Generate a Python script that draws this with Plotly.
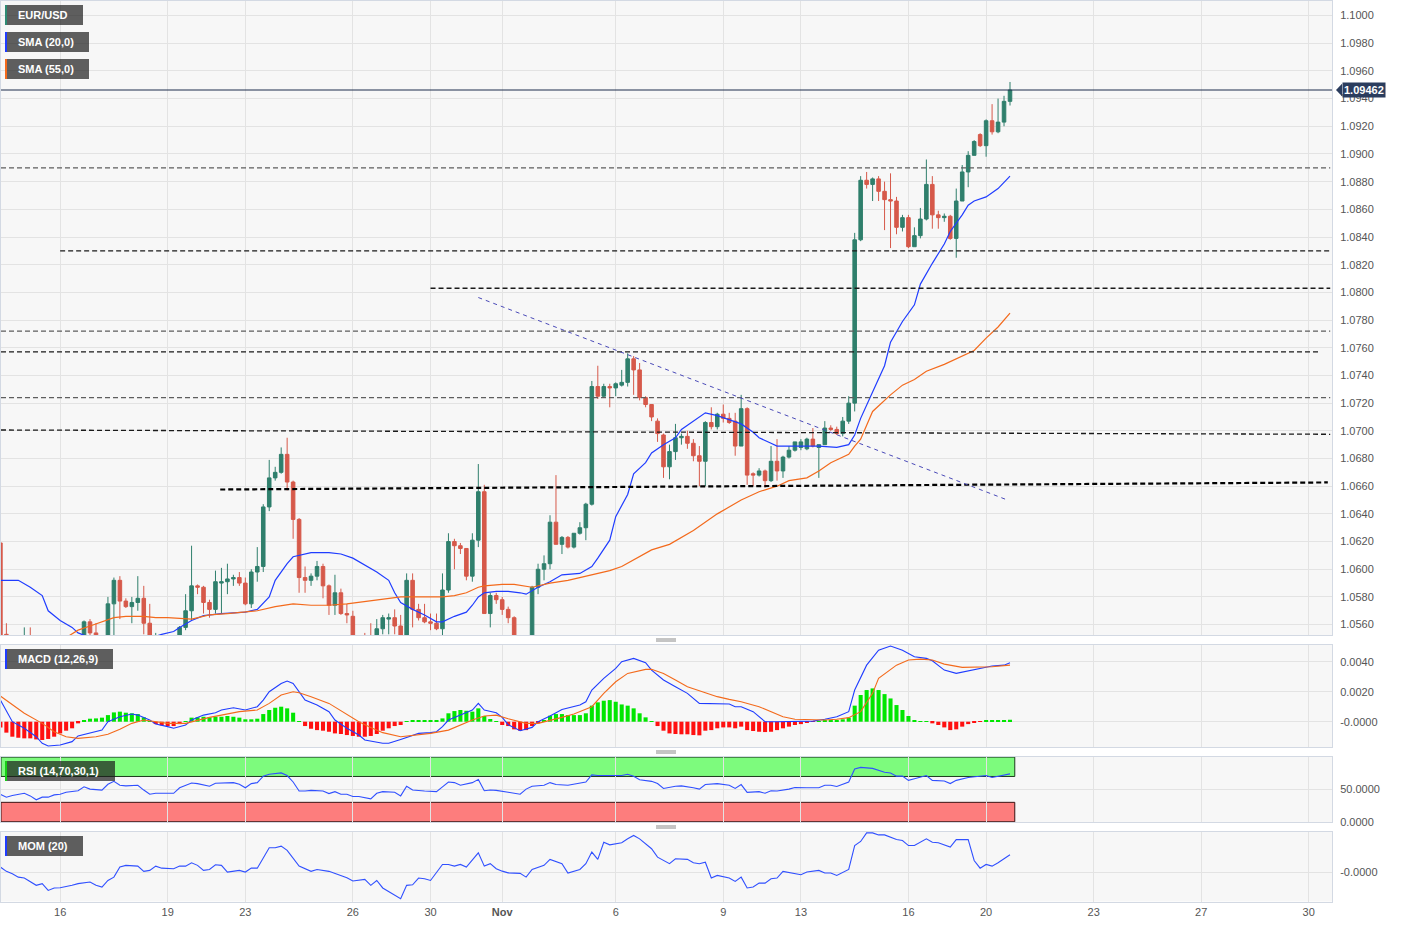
import plotly.graph_objects as go
from plotly.subplots import make_subplots

# ---------------- DATA (4h candles, index 0 = Mon 16 Oct 00:00) ----------------
first_index = -10
opens = [1.0619,1.0553,1.0530,1.0520,1.0532,1.0541,1.0515,1.0505,1.0512,1.0508,
         1.0510,1.0520,1.0530,1.0540,1.0536,1.0562,1.0554,1.0545,1.0540,1.0575,
         1.0592,1.0577,1.0573,1.0576,1.0579,1.0561,1.0545,1.0550,1.0535,1.0540,
         1.0545,1.0558,1.0570,1.0588,1.0587,1.0576,1.0571,1.0590,1.0591,1.0593,
         1.0594,1.0590,1.0575,1.0598,1.0602,1.0645,1.0666,1.0670,1.0683,1.0663,
         1.0636,1.0594,1.0592,1.0595,1.0602,1.0588,1.0574,1.0583,1.0568,1.0566,
         1.0540,1.0532,1.0538,1.0530,1.0557,1.0564,1.0565,1.0559,1.0542,1.0592,
         1.0571,1.0565,1.0562,1.0561,1.0557,1.0585,1.0620,1.0617,1.0615,1.0595,
         1.0621,1.0656,1.0568,1.0581,1.0578,1.0571,1.0565,1.0545,1.0535,1.0540,
         1.0587,1.0600,1.0604,1.0634,1.0618,1.0623,1.0616,1.0626,1.0630,1.0647,
         1.0732,1.0725,1.0732,1.0731,1.0733,1.0735,1.0752,1.0744,1.0724,1.0719,
         1.0707,1.0697,1.0674,1.0685,1.0695,1.0696,1.0691,1.0682,1.0678,1.0706,
         1.0703,1.0712,1.0709,1.0707,1.0689,1.0716,1.0669,1.0668,1.0671,1.0664,
         1.0678,1.0671,1.0681,1.0686,1.0688,1.0687,1.0694,1.0688,1.0690,1.0702,
         1.0701,1.0698,1.0707,1.0720,1.0838,1.0881,1.0878,1.0882,1.0873,1.0867,
         1.0866,1.0847,1.0854,1.0833,1.0841,1.0853,1.0878,1.0856,1.0854,1.0855,
         1.0839,1.0866,1.0887,1.0899,1.0914,1.0906,1.0924,1.0916,1.0923,1.0938]
highs = [1.0626,1.0561,1.0545,1.0540,1.0558,1.0558,1.0530,1.0520,1.0525,1.0515,
         1.0525,1.0535,1.0545,1.0550,1.0563,1.0564,1.0561,1.0551,1.0580,1.0594,
         1.0595,1.0579,1.0580,1.0595,1.0588,1.0575,1.0554,1.0551,1.0548,1.0550,
         1.0559,1.0582,1.0617,1.0589,1.0588,1.0578,1.0599,1.0601,1.0604,1.0596,
         1.0598,1.0594,1.0600,1.0616,1.0647,1.0679,1.0674,1.0688,1.0695,1.0664,
         1.0637,1.0602,1.0597,1.0606,1.0604,1.0589,1.0596,1.0586,1.0575,1.0570,
         1.0548,1.0554,1.0561,1.0564,1.0567,1.0568,1.0571,1.0567,1.0597,1.0597,
         1.0575,1.0575,1.0568,1.0568,1.0597,1.0626,1.0622,1.0619,1.0615,1.0626,
         1.0676,1.0661,1.0583,1.0583,1.0580,1.0573,1.0566,1.0550,1.0548,1.0588,
         1.0604,1.0610,1.0639,1.0668,1.0624,1.0624,1.0626,1.0634,1.0648,1.0736,
         1.0747,1.0734,1.0734,1.0735,1.0744,1.0756,1.0754,1.0749,1.0725,1.0719,
         1.0709,1.0698,1.0690,1.0705,1.0698,1.0700,1.0694,1.0689,1.0707,1.0717,
         1.0713,1.0719,1.0713,1.0713,1.0726,1.0717,1.0670,1.0673,1.0672,1.0689,
         1.0694,1.0682,1.0689,1.0692,1.0694,1.0695,1.0702,1.0690,1.0707,1.0704,
         1.0703,1.0710,1.0725,1.0843,1.0884,1.0887,1.0883,1.0884,1.0880,1.0886,
         1.0869,1.0856,1.0856,1.0847,1.0861,1.0896,1.0884,1.0859,1.0857,1.0856,
         1.0875,1.0892,1.0902,1.0910,1.0915,1.0925,1.0936,1.0940,1.0942,1.0952]
lows = [1.0527,1.0525,1.0515,1.0505,1.0525,1.0510,1.0496,1.0495,1.0500,1.0500,
        1.0505,1.0512,1.0522,1.0528,1.0532,1.0548,1.0535,1.0530,1.0535,1.0550,
        1.0564,1.0572,1.0561,1.0570,1.0553,1.0535,1.0530,1.0525,1.0522,1.0530,
        1.0538,1.0556,1.0563,1.0582,1.0568,1.0565,1.0568,1.0568,1.0582,1.0588,
        1.0588,1.0574,1.0572,1.0591,1.0598,1.0642,1.0664,1.0669,1.0657,1.0622,
        1.0583,1.0583,1.0588,1.0592,1.0579,1.0567,1.0567,1.0567,1.0561,1.0535,
        1.0524,1.0522,1.0525,1.0527,1.0553,1.0553,1.0553,1.0535,1.0540,1.0558,
        1.0563,1.0561,1.0556,1.0556,1.0550,1.0583,1.0600,1.0611,1.0592,1.0591,
        1.0616,1.0568,1.0558,1.0575,1.0567,1.0561,1.0535,1.0525,1.0517,1.0535,
        1.0582,1.0592,1.0600,1.0618,1.0611,1.0615,1.0615,1.0625,1.0621,1.0646,
        1.0723,1.0724,1.0717,1.0725,1.0732,1.0732,1.0726,1.0722,1.0717,1.0707,
        1.0692,1.0666,1.0665,1.0679,1.0690,1.0687,1.0678,1.0660,1.0660,1.0701,
        1.0701,1.0706,1.0705,1.0682,1.0689,1.0661,1.0660,1.0667,1.0659,1.0663,
        1.0664,1.0666,1.0680,1.0685,1.0686,1.0686,1.0688,1.0666,1.0690,1.0700,
        1.0697,1.0696,1.0705,1.0714,1.0837,1.0875,1.0866,1.0866,1.0845,1.0832,
        1.0842,1.0844,1.0832,1.0833,1.0839,1.0852,1.0846,1.0846,1.0851,1.0838,
        1.0825,1.0866,1.0876,1.0899,1.0905,1.0898,1.0914,1.0915,1.0920,1.0935]
closes = [1.0538,1.0530,1.0520,1.0532,1.0541,1.0515,1.0505,1.0512,1.0508,1.0510,
          1.0520,1.0530,1.0540,1.0536,1.0562,1.0554,1.0545,1.0540,1.0575,1.0592,
          1.0577,1.0573,1.0576,1.0579,1.0561,1.0545,1.0550,1.0535,1.0540,1.0545,
          1.0558,1.0570,1.0588,1.0587,1.0576,1.0571,1.0591,1.0591,1.0593,1.0594,
          1.0590,1.0575,1.0598,1.0602,1.0645,1.0666,1.0670,1.0683,1.0663,1.0636,
          1.0594,1.0592,1.0595,1.0602,1.0588,1.0574,1.0583,1.0568,1.0567,1.0540,
          1.0532,1.0528,1.0530,1.0557,1.0565,1.0565,1.0559,1.0542,1.0592,1.0571,
          1.0565,1.0562,1.0561,1.0557,1.0585,1.0620,1.0617,1.0615,1.0595,1.0621,
          1.0656,1.0568,1.0581,1.0578,1.0571,1.0565,1.0545,1.0535,1.0540,1.0587,
          1.0600,1.0604,1.0634,1.0618,1.0623,1.0616,1.0626,1.0630,1.0647,1.0732,
          1.0725,1.0732,1.0731,1.0734,1.0735,1.0752,1.0744,1.0724,1.0719,1.0710,
          1.0698,1.0674,1.0685,1.0695,1.0696,1.0691,1.0682,1.0678,1.0706,1.0703,
          1.0712,1.0709,1.0706,1.0689,1.0716,1.0668,1.0668,1.0671,1.0664,1.0678,
          1.0671,1.0681,1.0686,1.0692,1.0692,1.0694,1.0689,1.0690,1.0702,1.0701,
          1.0698,1.0707,1.0720,1.0838,1.0881,1.0878,1.0882,1.0873,1.0867,1.0866,
          1.0847,1.0854,1.0833,1.0841,1.0853,1.0878,1.0856,1.0854,1.0855,1.0839,
          1.0866,1.0887,1.0899,1.0909,1.0906,1.0924,1.0916,1.0923,1.0938,1.09462]
candle_index = list(range(first_index, first_index + len(closes)))

# SMA readings (candle index, value)
sma20_index = [-10,-7,-5,-3,-2,0,2,3,6,9,12,15,17,19,20,22,24,27,31,33,35,36,38,39,42,45,47,49,51,53,
               55,56,57,59,61,63,64,66,68,69,70,71,73,75,77,78,80,82,84,87,89,90,92,93,95,96,98,99,101,103,
               104,106,108,110,112,114,116,117,119,120,122,125,127,130,132,133,134,136,138,139,141,143,144,146,148,149,151,152,153,155,
               157,159]
sma20_value = [1.0592,1.0592,1.0587,1.0581,1.0570,1.0563,1.0558,1.0554,1.0549,1.0546,1.0546,1.0550,1.0553,1.0555,1.0558,1.0563,1.05665,1.0568,1.0569,1.0571,
               1.0580,1.0592,1.0604,1.0609,1.0612,1.0612,1.0611,1.0608,1.0603,1.0598,1.0592,1.0583,1.0576,1.0571,1.0567,1.0562,1.0562,1.0566,1.0569,1.0574,
               1.0580,1.0583,1.0584,1.0584,1.0583,1.0582,1.0587,1.0591,1.0596,1.0597,1.0602,1.0608,1.0621,1.0638,1.0654,1.0669,1.0677,1.0684,1.0690,1.0695,
               1.0701,1.0707,1.0713,1.0711,1.0708,1.0705,1.0699,1.0695,1.0691,1.0689,1.0689,1.0689,1.0689,1.0688,1.0690,1.0697,1.0709,1.0728,1.0747,1.0764,
               1.0779,1.0791,1.0806,1.0821,1.0835,1.0844,1.0856,1.0863,1.0866,1.0869,1.0875,1.0884]
sma55_index = [-10,-5,0,2,3,5,7,9,11,14,16,18,22,25,28,33,36,39,42,45,48,50,54,57,61,64,66,68,70,71,
               74,76,79,82,85,89,92,94,97,99,102,104,106,110,114,117,120,122,125,127,129,132,133,134,136,139,141,143,145,148,
               150,153,155,157,159]
sma55_value = [1.0538,1.0542,1.0548,1.0553,1.0556,1.0559,1.0562,1.0565,1.0566,1.0566,1.0565,1.0565,1.0564,1.0567,1.0568,1.0570,1.0573,1.0575,1.0574,1.0574,
               1.0575,1.0576,1.0578,1.0580,1.0580,1.0580,1.0581,1.0583,1.0587,1.0588,1.0589,1.0589,1.0587,1.0590,1.0592,1.0596,1.0599,1.0602,1.0609,1.0614,
               1.0618,1.0623,1.0628,1.0640,1.0650,1.0656,1.0660,1.0664,1.0666,1.0671,1.0677,1.0683,1.0689,1.0694,1.0714,1.0726,1.0733,1.0737,1.0743,1.0748,
               1.0752,1.0758,1.0767,1.0775,1.0785]

# MACD (12,26,9)
macd_index = [-10,-9,-8,-6,-4,-3,-2,0,2,3,5,7,8,10,12,13,15,16,18,19,21,22,24,26,27,29,31,33,34,35,
              37,38,39,40,41,43,45,46,48,50,51,54,55,57,59,60,62,63,64,65,67,69,70,71,73,74,75,77,79,80,
              82,84,87,88,89,91,93,94,96,98,99,101,103,105,107,109,112,113,114,116,118,120,123,126,128,130,132,133,135,137,
              139,141,143,145,146,148,150,152,154,156,158,159]
macd_value = [0.00144,0.00067,0.0,-0.00044,-0.0010,-0.00144,-0.00162,-0.00155,-0.00133,-0.00095,-0.00073,-0.00056,0.0,0.00033,0.00051,0.00044,0.00011,-0.00016,-0.00033,-0.00044,
              -0.00022,0.00011,0.00044,0.0006,0.00078,0.00093,0.00078,0.0010,0.00144,0.0020,0.00255,0.00271,0.00255,0.0020,0.00144,0.00111,0.00067,0.00011,-0.00044,-0.00089,
              -0.00122,-0.00144,-0.00144,-0.00118,-0.00089,-0.00078,-0.00073,-0.00067,-0.00033,0.00011,0.00044,0.00078,0.00122,0.00078,0.0006,0.00029,-0.0002,-0.0006,-0.00038,0.0,
              0.00038,0.00082,0.00111,0.00133,0.00211,0.00289,0.00355,0.0040,0.00422,0.00393,0.00344,0.00278,0.00233,0.00189,0.00122,0.00122,0.00118,0.0010,0.0010,0.00067,
              0.0,0.0,0.0,0.00004,0.00016,0.00033,0.00067,0.00211,0.00377,0.00477,0.00504,0.00477,0.00433,0.00422,0.00406,0.00344,0.00322,0.0034,0.00355,0.00371,
              0.00377,0.00393]
signal_index = [-10,-8,-6,-3,-1,1,3,6,8,10,12,14,16,18,21,23,25,27,30,33,35,37,39,40,42,45,47,49,50,52,
                54,57,60,62,65,67,69,71,73,75,78,80,82,84,86,89,91,93,95,98,99,101,103,105,108,110,112,114,117,119,
                121,123,126,128,130,132,134,136,137,140,142,144,146,148,151,154,156,159]
signal_value = [0.00171,0.00111,0.00056,-0.00011,-0.00067,-0.0010,-0.00111,-0.0010,-0.00084,-0.00051,-0.00011,0.00011,0.0,-0.00011,-0.00011,0.00011,0.00029,0.00044,0.00067,0.00078,
                0.00122,0.00178,0.0020,0.00193,0.00167,0.00122,0.00073,0.00022,0.0,-0.00038,-0.00073,-0.0010,-0.00089,-0.00078,-0.00056,-0.00022,0.00011,0.00038,0.00044,0.0002,
                -0.00011,-0.00011,0.00007,0.00029,0.00051,0.0010,0.00189,0.00266,0.00322,0.00349,0.00349,0.00322,0.00278,0.00233,0.00193,0.00167,0.00149,0.00133,0.0010,0.00067,
                0.00033,0.00016,0.00011,0.00011,0.00016,0.00027,0.00067,0.00189,0.00289,0.00377,0.00411,0.00417,0.00411,0.00384,0.00362,0.00362,0.00366,0.00377]
hist_value = [-0.00038,-0.00073,-0.0010,-0.00107,-0.00111,-0.00111,-0.00118,-0.00122,-0.00115,-0.0010,
              -0.00078,-0.0006,-0.00044,-0.00011,0.00011,0.0002,0.00022,0.00027,0.00044,0.00062,
              0.00067,0.0006,0.00056,0.00051,0.00029,0.00004,-0.00016,-0.00024,-0.00029,-0.00029,
              -0.00016,0.00004,0.00027,0.00029,0.00033,0.00029,0.00033,0.00033,0.00038,0.00033,
              0.00027,0.00016,0.00016,0.0002,0.00051,0.00078,0.00093,0.0010,0.00089,0.0006,
              0.00004,-0.00029,-0.00047,-0.00056,-0.0006,-0.00067,-0.00078,-0.00082,-0.00089,-0.00095,
              -0.0010,-0.0010,-0.00095,-0.00082,-0.0006,-0.00044,-0.00029,-0.00022,0.00004,0.00011,
              0.00011,0.00011,0.00009,0.00007,0.00022,0.00056,0.00071,0.00078,0.00073,0.00067,
              0.00089,0.00038,0.00018,0.00004,-0.00022,-0.00029,-0.00051,-0.0006,-0.00056,-0.00029,
              -0.00011,0.00011,0.0004,0.00051,0.00051,0.00044,0.00044,0.00044,0.00056,0.00107,
              0.00129,0.0014,0.00144,0.00133,0.00115,0.00107,0.00089,0.00056,0.00029,0.00004,
              -0.00029,-0.0006,-0.00078,-0.00082,-0.00084,-0.00084,-0.00089,-0.00091,-0.0006,-0.00056,
              -0.00044,-0.00038,-0.00038,-0.00044,-0.00033,-0.00056,-0.00062,-0.00067,-0.00069,-0.00067,
              -0.00056,-0.00044,-0.00033,-0.00022,-0.00016,-0.00007,-0.00002,0.00004,0.00011,0.00011,
              0.00011,0.00016,0.00027,0.00107,0.00178,0.00211,0.00222,0.00211,0.00184,0.00155,
              0.00111,0.00078,0.00038,0.00011,0.00004,0.00002,-0.00011,-0.00022,-0.00038,-0.00056,
              -0.00051,-0.00033,-0.00016,-0.00007,-0.00002,0.00007,0.00007,0.00007,0.00011,0.00013]

# RSI (14)
rsi_index = [-10,-9,-8,-6,-5,-4,-3,-2,-1,0,1,3,4,5,7,8,9,10,11,13,14,15,16,18,19,20,22,23,24,25,
             26,27,29,30,31,32,33,34,35,37,38,39,40,41,42,44,45,46,47,48,49,50,52,53,54,56,57,58,59,61,
             62,63,64,65,66,67,69,70,71,72,73,74,75,77,78,79,81,82,83,85,86,88,89,90,92,94,95,96,97,99,
             100,101,103,104,106,107,108,110,112,113,114,115,117,118,119,120,122,123,125,127,128,129,130,132,133,134,136,137,138,139,
             140,141,142,143,145,146,148,149,150,152,153,155,156,158,159]
rsi_value = [42.5,38,40.5,44,40,34,38,38,41.5,42.5,45.5,48,54,50.5,49,58,62.5,56.5,55.5,56.5,49,42.5,44,43.5,44,52.5,60,59,56.5,55,
             59.5,60,60.5,58,52.5,59,60.5,70.5,73.5,75.5,71.5,61.5,47.5,47.5,48.5,47.5,43.5,46.5,42.5,42.5,39,39,35.5,44,46.5,45.5,40,55,49,47.5,
             47.5,46.5,54,61.5,60.5,56.5,60.5,65.5,48,49,48.5,47.5,45.5,42.5,50.5,55,56.5,60.5,57.5,56.5,58,61.5,72.5,71.5,71.5,71.5,73.5,70.5,65,62.5,
             59,51.5,55,55.5,52.5,50.5,57.5,59,56.5,51.5,57.5,45.5,46.5,44,48,47.5,50.5,53,52.5,52.5,56.5,56.5,54.5,61.5,81.5,84,82.5,79,76.5,75.5,
             70.5,70.5,64,66.5,71.5,64,63,59,64,68.5,69.5,71.5,68.5,71.5,74]

# Momentum (20)
mom_index = [-10,-9,-8,-7,-6,-4,-3,-2,-1,0,2,3,5,6,7,8,9,10,11,13,14,15,16,17,19,20,21,22,23,24,
             25,26,27,28,30,31,32,33,34,35,36,37,38,40,42,43,45,47,48,49,51,52,53,54,55,56,57,58,59,60,
             61,62,63,64,65,66,67,68,70,71,72,73,74,75,77,78,79,81,82,84,85,87,88,89,90,91,92,94,95,96,
             97,99,100,102,103,105,106,107,108,109,110,112,113,114,115,116,117,118,119,120,121,124,125,127,128,129,130,132,133,134,
             135,136,137,138,140,141,142,143,145,146,147,149,150,152,153,154,155,156,157,158,159]
mom_value = [0.0027,0.0004,-0.0009,-0.0027,-0.0032,-0.0071,-0.0062,-0.0098,-0.0085,-0.0084,-0.0071,-0.0062,-0.0053,-0.0071,-0.0080,-0.0045,-0.0027,0.0027,0.0036,0.0032,
             0.0004,0.0009,0.0032,0.0021,0.0018,0.0032,0.0032,0.0050,0.0036,0.0009,0.0014,0.0039,0.0036,0.0,0.0009,0.0,0.0021,0.0021,0.0075,0.0130,
             0.0130,0.0139,0.0116,0.0032,0.0004,0.0014,0.0004,-0.0018,-0.0030,-0.0048,-0.0039,-0.0071,-0.0045,-0.0085,-0.0103,-0.0121,-0.0142,-0.0071,-0.0068,-0.0032,
             -0.0036,-0.0045,-0.0004,0.0041,0.0041,0.0032,0.0041,0.0027,0.0103,0.0032,0.0045,0.0018,0.0005,-0.0004,-0.0007,-0.0027,0.0014,0.0036,0.0068,0.0045,
             -0.0005,0.0014,0.0045,0.0107,0.0068,0.0160,0.0146,0.0157,0.0178,0.0196,0.0178,0.0125,0.0080,0.0045,0.0071,0.0068,0.0050,0.0045,0.0053,-0.0032,
             -0.0018,-0.0032,-0.0050,-0.0027,-0.0085,-0.0080,-0.0059,-0.0059,-0.0036,-0.0032,0.0004,-0.0014,0.0,0.0009,-0.0005,-0.0005,-0.0018,0.0014,0.0142,0.0164,
             0.0210,0.0210,0.0199,0.0199,0.0174,0.0169,0.0142,0.0142,0.0178,0.0160,0.0157,0.0134,0.0174,0.0174,0.0062,0.0021,0.0041,0.0032,0.0050,0.0071,0.0093]

# Drawn levels (price, start index, end index)
level_price = [1.0890, 1.0830, 1.0803, 1.0772, 1.0757, 1.0724]
level_start = [-9.9, 0, 62, -9.9, -9.9, -9.9]
level_end = [212.6, 212.6, 212.6, 212.6, 210.9, 212.6]
level_dark = [False, True, True, False, True, False]
sloped_level = [(-9.9, 1.07006, 212.6, 1.06975)]
support_line = (26.8, 1.06576, 212.2, 1.06627)
trend_line = (70.0, 1.07963, 158.4, 1.06503)
last_price = 1.09462

tick_index = [0, 18, 31, 49, 62, 74, 93, 111, 124, 142, 155, 173, 191, 209]
tick_text = ['16', '19', '23', '26', '30', '<b>Nov</b>', '6', '9', '13', '16', '20', '23', '27', '30']

# ---------------- FIGURE ----------------
W, H = 1403, 927
ML, MR, MT, MB = 1, 71, 1, 25
PW, PH = W - ML - MR, H - MT - MB

def fy(py):
    return (H - MB - py) / PH

def fx(px):
    return (px - ML) / PW

fig = make_subplots(rows=4, cols=1, shared_xaxes=True)

GREEN, RED = '#2f7f6c', '#d6594a'
BLUE, ORANGE = '#1f3cff', '#f36a1c'

fig.add_trace(go.Candlestick(x=candle_index, open=opens, high=highs, low=lows, close=closes,
                             increasing=dict(line=dict(color=GREEN, width=1), fillcolor=GREEN),
                             decreasing=dict(line=dict(color=RED, width=1), fillcolor=RED),
                             whiskerwidth=0, showlegend=False), row=1, col=1)
fig.add_trace(go.Scatter(x=sma20_index, y=sma20_value, mode='lines',
                         line=dict(color=BLUE, width=1.2), showlegend=False), row=1, col=1)
fig.add_trace(go.Scatter(x=sma55_index, y=sma55_value, mode='lines',
                         line=dict(color=ORANGE, width=1.2), showlegend=False), row=1, col=1)

hist_colors = ['#00e600' if v >= 0 else '#ff1010' for v in hist_value]
fig.add_trace(go.Bar(x=candle_index, y=hist_value, marker=dict(color=hist_colors, line=dict(width=0)),
                     width=0.68, showlegend=False), row=2, col=1)
fig.add_trace(go.Scatter(x=macd_index, y=macd_value, mode='lines',
                         line=dict(color=BLUE, width=1.1), showlegend=False), row=2, col=1)
fig.add_trace(go.Scatter(x=signal_index, y=signal_value, mode='lines',
                         line=dict(color=ORANGE, width=1.1), showlegend=False), row=2, col=1)

fig.add_trace(go.Scatter(x=rsi_index, y=rsi_value, mode='lines',
                         line=dict(color='#3050ff', width=1.1), showlegend=False), row=3, col=1)
fig.add_trace(go.Scatter(x=mom_index, y=mom_value, mode='lines',
                         line=dict(color='#3050ff', width=1.1), showlegend=False), row=4, col=1)

xr = [-9.9, 212.9]
grid = '#e3e3e3'
border = '#d3d9e3'
tickfont = dict(family='Arial, Liberation Sans', size=11, color='#555555')

domains = [(fy(635), fy(1)), (fy(747), fy(645)), (fy(822), fy(756.5)), (fy(901.5), fy(831.5))]
for i in range(4):
    ax = 'xaxis' if i == 0 else f'xaxis{i+1}'
    ay = 'yaxis' if i == 0 else f'yaxis{i+1}'
    fig.layout[ax].update(range=xr, domain=[0, 1], showgrid=True, gridcolor=grid, gridwidth=1,
                          tickmode='array', tickvals=tick_index, ticktext=tick_text,
                          showticklabels=(i == 3), tickfont=tickfont, ticks='',
                          showline=True, linecolor=border, mirror=True, zeroline=False,
                          rangeslider=dict(visible=False))
    fig.layout[ay].update(domain=list(domains[i]), side='right', showgrid=True, gridcolor=grid,
                          tickfont=tickfont, showline=True, linecolor=border, mirror=True,
                          zeroline=False, ticks='', ticklabelstandoff=5)

fig.layout.yaxis.update(range=[1.05525, 1.10105], tickmode='linear', tick0=1.0, dtick=0.002, tickformat='.4f')
fig.layout.yaxis2.update(range=[-0.001687, 0.005113], tickmode='array', tickvals=[0, 0.002, 0.004],
                         ticktext=['-0.0000', '0.0020', '0.0040'])
fig.layout.yaxis3.update(range=[-0.4, 100.9], tickmode='array', tickvals=[0, 50], ticktext=['0.0000', '50.0000'])
fig.layout.yaxis4.update(range=[-0.01575, 0.02173], tickmode='array', tickvals=[0], ticktext=['-0.0000'])

shapes = []
for p, s, e, dark in zip(level_price, level_start, level_end, level_dark):
    shapes.append(dict(type='line', xref='x', yref='y', x0=s, x1=e, y0=p, y1=p,
                       line=dict(color='#1a1a1a' if dark else '#5e5e5e', width=1.3, dash='5px,3px')))
for s, p0, e, p1 in sloped_level:
    shapes.append(dict(type='line', xref='x', yref='y', x0=s, x1=e, y0=p0, y1=p1,
                       line=dict(color='#1a1a1a', width=1.3, dash='5px,3px')))
shapes.append(dict(type='line', xref='x', yref='y', x0=support_line[0], y0=support_line[1],
                   x1=support_line[2], y1=support_line[3], line=dict(color='#000000', width=2.2, dash='5px,3px')))
shapes.append(dict(type='line', xref='x', yref='y', x0=trend_line[0], y0=trend_line[1],
                   x1=trend_line[2], y1=trend_line[3], line=dict(color='#4a4ab8', width=1, dash='4px,4px')))
shapes.append(dict(type='line', xref='paper', yref='y', x0=0, x1=1, y0=last_price, y1=last_price,
                   line=dict(color='#1c2c4c', width=1)))
# RSI zones
last_x = candle_index[-1] + 0.8
shapes.append(dict(type='rect', xref='x3', yref='y3', x0=xr[0], x1=last_x, y0=70, y1=100,
                   fillcolor='#7dfb7d', line=dict(color='#1e3a1e', width=1), layer='below'))
shapes.append(dict(type='rect', xref='x3', yref='y3', x0=xr[0], x1=last_x, y0=0.0, y1=30,
                   fillcolor='#fd7d7d', line=dict(color='#3a1414', width=1), layer='below'))
# price tag pointer
shapes.append(dict(type='path', xref='paper', yref='y',
                   path=f'M {fx(1336)} {last_price} L {fx(1342)} {last_price + 0.00045} L {fx(1342)} {last_price - 0.00045} Z',
                   fillcolor='#2b3d5e', line=dict(width=0)))
# pane separators
for py in (639, 751, 826):
    for dy in (0, 2):
        shapes.append(dict(type='line', xref='paper', yref='paper', x0=fx(656), x1=fx(676),
                           y0=fy(py + dy), y1=fy(py + dy), line=dict(color='#8a8a8a', width=1)))

annotations = []
labels = [('EUR/USD', 5, 83, 5, 25, '#2e8b74'), ('SMA (20,0)', 5, 89, 32, 52, BLUE),
          ('SMA (55,0)', 5, 89, 59, 79, ORANGE), ('MACD (12,26,9)', 5, 113, 649, 669, BLUE),
          ('RSI (14,70,30,1)', 5, 115, 761, 781, '#16d016'), ('MOM (20)', 5, 83, 836, 856, BLUE)]
for text, x0, x1, y0, y1, c in labels:
    shapes.append(dict(type='rect', xref='paper', yref='paper', x0=fx(x0), x1=fx(x1), y0=fy(y1), y1=fy(y0),
                       fillcolor='rgba(28,28,28,0.7)', line=dict(width=0)))
    shapes.append(dict(type='rect', xref='paper', yref='paper', x0=fx(x0), x1=fx(x0 + 2), y0=fy(y1), y1=fy(y0),
                       fillcolor=c, line=dict(width=0)))
    annotations.append(dict(text=f'<b>{text}</b>', xref='paper', yref='paper', x=fx(x0 + 11), y=fy((y0 + y1) / 2),
                            xanchor='left', yanchor='middle', showarrow=False,
                            font=dict(family='Arial, Liberation Sans', size=11, color='white')))
annotations.append(dict(text=f'<b>{last_price:.5f}</b>', xref='paper', yref='y', x=fx(1342), y=last_price,
                        xanchor='left', yanchor='middle', showarrow=False, bgcolor='#2b3d5e',
                        borderpad=1, font=dict(family='Arial, Liberation Sans', size=11, color='white')))

fig.update_layout(width=W, height=H, margin=dict(l=ML, r=MR, t=MT, b=MB),
                  paper_bgcolor='white', plot_bgcolor='#f7f7f7', shapes=shapes, annotations=annotations,
                  showlegend=False, bargap=0.3, boxgap=0.15, hovermode=False)

fig.write_html('out.html', config={'displayModeBar': False},
               post_script="document.body.style.margin='0';document.body.style.overflow='hidden';")
